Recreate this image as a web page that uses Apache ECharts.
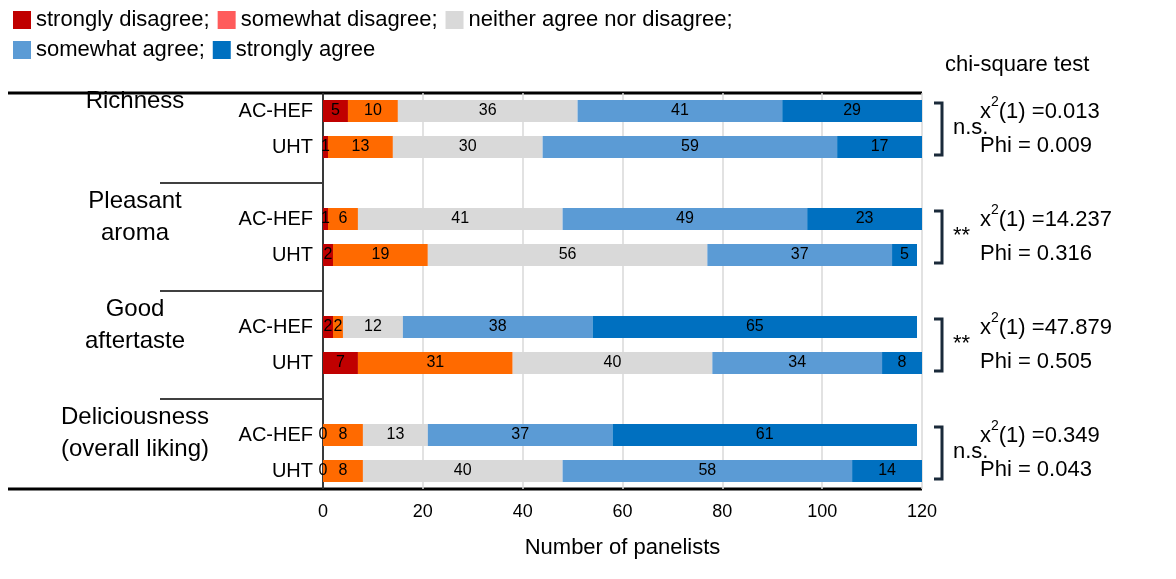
<!DOCTYPE html>
<html><head><meta charset="utf-8">
<script src="https://cdn.jsdelivr.net/npm/echarts@6/dist/echarts.min.js"></script>
<style>html,body{margin:0;padding:0;background:#fff}#c{width:1176px;height:579px}</style>
</head><body><div id="c"></div>
<script>
const rows = ['AC-HEF', 'UHT', '', 'AC-HEF', 'UHT', '', 'AC-HEF', 'UHT', '', 'AC-HEF', 'UHT'];
const groups = ['Richness', 'Pleasant\naroma', 'Good\naftertaste', 'Deliciousness\n(overall liking)'];
const seriesNames = ['strongly disagree', 'somewhat disagree', 'neither agree nor disagree', 'somewhat agree', 'strongly agree'];
const stronglyDisagree = [5, 1, null, 1, 2, null, 2, 7, null, 0, 0];
const somewhatDisagree = [10, 13, null, 6, 19, null, 2, 31, null, 8, 8];
const neither = [36, 30, null, 41, 56, null, 12, 40, null, 13, 40];
const somewhatAgree = [41, 59, null, 49, 37, null, 38, 34, null, 37, 58];
const stronglyAgree = [29, 17, null, 23, 5, null, 65, 8, null, 61, 14];
const signif = ['n.s.', '**', '**', 'n.s.'];
const chiSq = ['0.013', '14.237', '47.879', '0.349'];
const phi = ['0.009', '0.316', '0.505', '0.043'];

const barColors = ['#C00000', '#FF6A00', '#D9D9D9', '#5B9BD5', '#0070C0'];
const legendColors = ['#C00000', '#FF5B5B', '#D9D9D9', '#5B9BD5', '#0070C0'];
const values = [stronglyDisagree, somewhatDisagree, neither, somewhatAgree, stronglyAgree];
const font = 'Arial, Liberation Sans, sans-serif';

const chart = echarts.init(document.getElementById('c'));
const plotTop = 93, slot = 36;
const graphics = [];
const hline = (x1, x2, y, w) => graphics.push({ type: 'line', shape: { x1, y1: y, x2, y2: y }, style: { stroke: '#000', lineWidth: w } });
hline(8, 922, plotTop, 3);
hline(8, 922, plotTop + 11 * slot, 3);
[2, 5, 8].forEach(s => hline(160, 322, plotTop + s * slot + slot / 2, 1.5));
groups.forEach((g, i) => {
  const yc = plotTop + (i * 3 + 1) * slot;
  const twoLine = g.includes('\n');
  graphics.push({ type: 'text', style: { text: g, x: 135, y: twoLine ? yc - 52 : yc - 44, align: 'center', fill: '#000', font: '24px ' + font, lineHeight: 32 } });
  const y1 = yc - 26, y2 = yc + 26;
  graphics.push({ type: 'polyline', shape: { points: [[934, y1], [942, y1], [942, y2], [934, y2]] }, style: { stroke: '#1a2a3a', lineWidth: 3, fill: null } });
  graphics.push({ type: 'text', style: { text: signif[i], x: 953, y: yc - 12, fill: '#000', font: '22px ' + font } });
  graphics.push({ type: 'text', style: { text: '{a|x}{s|2}{a|(1) =' + chiSq[i] + '}\n{a|Phi = ' + phi[i] + '}', x: 980, y: yc - 34, fill: '#000', rich: { a: { fontSize: 22, fontFamily: font, lineHeight: 34 }, s: { fontSize: 14, fontFamily: font, verticalAlign: 'top', lineHeight: 20 } } } });
});
graphics.push({ type: 'text', style: { text: 'chi-square test', x: 945, y: 54, fill: '#000', font: '22px ' + font } });

chart.setOption({
  animation: false,
  textStyle: { fontFamily: font },
  legend: {
    left: 8, top: 4, width: 760, itemWidth: 18, itemHeight: 18, itemGap: 8,
    textStyle: { fontSize: 22, color: '#000' },
    formatter: n => n === 'strongly agree' ? n : n + ';',
    data: seriesNames.map((n, i) => ({ name: n, icon: 'rect', itemStyle: { color: legendColors[i] } }))
  },
  grid: { left: 323, right: 254, top: plotTop, height: 11 * slot, containLabel: false },
  xAxis: {
    type: 'value', min: 0, max: 120, interval: 20,
    axisLine: { show: false }, axisTick: { show: false },
    splitLine: { lineStyle: { color: '#d9d9d9', width: 1.5 } },
    axisLabel: { fontSize: 18, color: '#000', margin: 14 },
    name: 'Number of panelists', nameLocation: 'middle', nameGap: 48,
    nameTextStyle: { fontSize: 22, color: '#000' }
  },
  yAxis: {
    type: 'category', data: rows, inverse: true,
    axisLine: { lineStyle: { color: '#000', width: 1.5 } }, axisTick: { show: false },
    axisLabel: { fontSize: 20, color: '#000', margin: 10 }
  },
  series: values.map((v, i) => ({
    name: seriesNames[i], type: 'bar', stack: 'all', data: v, barWidth: 22,
    itemStyle: { color: barColors[i] },
    label: { show: true, position: 'inside', color: '#000', fontSize: 16, formatter: p => p.value == null ? '' : p.value }
  })),
  graphic: graphics
});
</script></body></html>
